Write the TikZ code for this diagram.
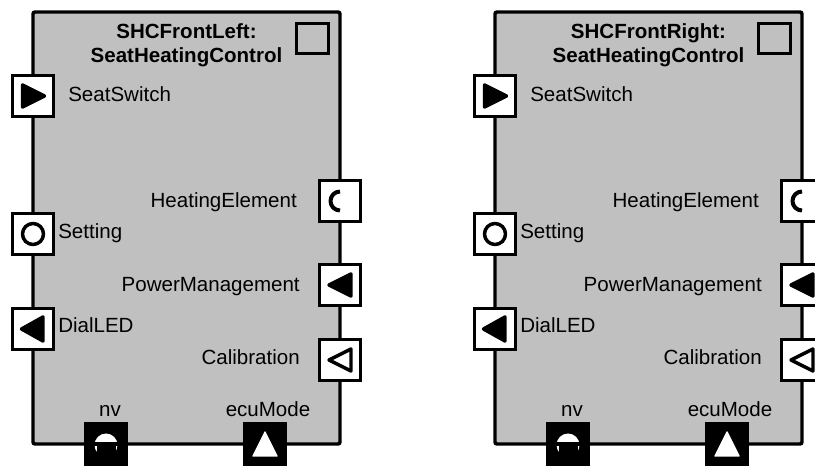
\documentclass[tikz,border=0pt]{standalone}
\usepackage{fontspec}
\setmainfont{Liberation Sans}
\usetikzlibrary{positioning}
\definecolor{compgray}{RGB}{192,192,192}
\tikzset{
    % component body (gray block)
    compbox/.style={
        draw=black, fill=compgray, line width=2.6pt,
        rounded corners=1.5pt, inner sep=0pt,
        minimum width=230.25pt, minimum height=324pt
    },
    % port squares on the border
    portbox/.style={
        draw=black, fill=white, line width=2.6pt,
        minimum size=30.75pt, inner sep=0pt
    },
    blackport/.style={portbox, fill=black},
    % small square in the title corner
    kindbox/.style={draw=black, line width=2.6pt, inner sep=0pt,
        minimum width=24pt, minimum height=22.5pt},
    % texts
    lbl/.style={inner sep=0pt, font=\fontsize{15.4}{18}\selectfont},
    ttl/.style={lbl, font=\fontsize{15.4}{18}\selectfont\bfseries, align=center},
    % port icons
    icon/.style={line width=2.6pt, line join=round},
}

\begin{document}
\begin{tikzpicture}[x=0.75pt,y=-0.75pt]
  \useasboundingbox (0,0) rectangle (815,466);
  \foreach \dx/\inst/\id in {0/SHCFrontLeft/L,462/SHCFrontRight/R}{
  \begin{scope}[xshift=\dx*0.75pt]
    \node[compbox] (\id-box) at (186.5,228) {};
    \node[ttl,anchor=base] (\id-title) at (186.5,63) {\inst:\\SeatHeatingControl};
    \node[kindbox] (\id-kind) at (312.5,38.5) {};
    % left side
    \node[portbox] (\id-seat) at (33,96) {};
    \node[portbox] (\id-set) at (33,234) {};
    \node[portbox] (\id-dial) at (33,329) {};
    % right side
    \node[portbox] (\id-heat) at (340,201) {};
    \node[portbox] (\id-power) at (340,285) {};
    \node[portbox] (\id-calib) at (340,360) {};
    % bottom
    \node[blackport] (\id-nv) at (106,444) {};
    \node[blackport] (\id-ecu) at (265,444) {};
    % icons
    \filldraw[icon] (\id-seat.center) ++(-10.5,-11) -- ++(22,11) -- ++(-22,11) -- cycle;
    \draw[icon] (\id-set.center) circle[radius=10.5];
    \filldraw[icon] (\id-dial.center) ++(10,-12) -- ++(-21.5,12) -- ++(21.5,12) -- cycle;
    \draw[icon,line width=3pt] (\id-heat.center) ++(0,-9.5) arc[start angle=-90,end angle=-270,radius=9.5];
    \filldraw[icon] (\id-power.center) ++(11,-11) -- ++(-22,11) -- ++(22,11) -- cycle;
    \filldraw[icon,fill=white] (\id-calib.center) ++(11,-11) -- ++(-22,11) -- ++(22,11) -- cycle;
    \fill[white] (\id-nv.center) ++(0,1) circle[radius=11.5];
    \draw[icon] (\id-nv.west) -- (\id-nv.east);
    \fill[black] (\id-nv.center) ++(-9.5,2) rectangle ++(19,14);
    \filldraw[icon,white,line width=1pt] (\id-ecu.center) ++(0,-12) -- ++(12,24) -- ++(-24,0) -- cycle;
    % labels
    \node[lbl,anchor=base west] (\id-seatlbl) at (68,102) {SeatSwitch};
    \node[lbl,anchor=base west] (\id-setlbl) at (58,239) {Setting};
    \node[lbl,anchor=base west] (\id-diallbl) at (58,333) {DialLED};
    \node[lbl,anchor=base east] (\id-heatlbl) at (297,208) {HeatingElement};
    \node[lbl,anchor=base east] (\id-powerlbl) at (300,292) {PowerManagement};
    \node[lbl,anchor=base east] (\id-caliblbl) at (300,365) {Calibration};
    \node[lbl,anchor=base] (\id-nvlbl) at (110,417) {nv};
    \node[lbl,anchor=base] (\id-eculbl) at (268,417) {ecuMode};
  \end{scope}}
\end{tikzpicture}
\end{document}
